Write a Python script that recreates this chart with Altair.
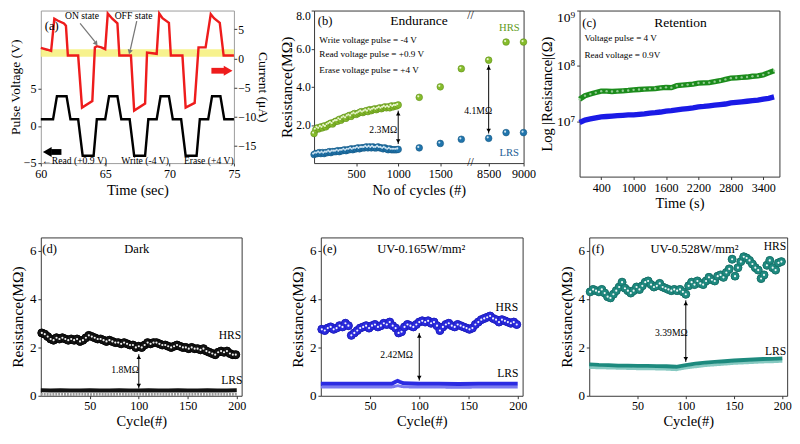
import altair as alt
import pandas as pd

FONT = "Liberation Serif"

# ---------------- (a) pulse voltage / current ----------------
a_volt_time = [60.0, 60.95, 61.25, 62.0, 62.3, 62.9, 63.25, 64.1, 64.35, 65.0, 65.3, 65.95, 66.25,
               66.9, 67.25, 68.1, 68.35, 69.0, 69.3, 69.95, 70.25, 70.9, 71.25, 72.1, 72.35, 73.0,
               73.3, 73.95, 74.25, 75.0]
a_volt = [0.9, 0.9, 4, 4, 0.9, 0.9, -4, -4, 0.9, 0.9, 4, 4, 0.9, 0.9, -4, -4, 0.9, 0.9, 4, 4,
          0.9, 0.9, -4, -4, 0.9, 0.9, 4, 4, 0.9, 0.9]
a_cur_time = [60.0, 60.5, 60.8, 61.05, 61.3, 61.8, 61.95, 62.1, 62.9, 63.2, 64.0, 64.2, 64.35, 64.7,
              65.0, 65.2, 65.55, 65.95, 66.1, 67.0, 67.25, 68.1, 68.25, 69.0, 69.2, 69.45, 69.95,
              70.1, 71.0, 71.25, 71.95, 72.25, 72.8, 73.2, 73.45, 73.9, 74.2, 75.0]
a_cur = [1.8, 1.5, 1.3, 6.8, 6.5, 6.0, 5.6, 0.5, 0.5, -8.4, -7.3, 1.9, 2.1, 1.9, 1.6, 7.7, 6.8, 6.0,
         0.5, 0.5, -8.9, -7.7, 1.0, 0.8, 7.7, 6.9, 6.1, 0.5, 0.5, -8.4, -7.6, 1.9, 1.9, 7.6, 6.9,
         6.1, 0.5, 0.5]
a_band = [0.3, 1.6]

# ---------------- (b) endurance ----------------
b_hrs_dense = [1.55, 1.75, 1.85, 1.8, 1.9, 1.85, 1.95, 1.9, 2.0, 2.05, 2.1, 2.05, 2.15, 2.2, 2.2,
               2.3, 2.25, 2.35, 2.4, 2.35, 2.45, 2.5, 2.45, 2.55, 2.6, 2.55, 2.6, 2.65, 2.7, 2.65,
               2.7, 2.75, 2.7, 2.8, 2.75, 2.8, 2.85, 2.8, 2.85, 2.9, 2.85, 2.9, 2.95, 2.9, 2.95,
               2.9, 3.0, 2.95, 3.0, 3.0, 3.05]
b_lrs_dense = [0.45, 0.5, 0.5, 0.55, 0.5, 0.55, 0.5, 0.55, 0.55, 0.6, 0.55, 0.6, 0.6, 0.6, 0.65,
               0.6, 0.65, 0.65, 0.7, 0.65, 0.7, 0.7, 0.75, 0.7, 0.75, 0.75, 0.8, 0.75, 0.8, 0.8,
               0.8, 0.85, 0.8, 0.85, 0.8, 0.85, 0.8, 0.8, 0.85, 0.8, 0.8, 0.75, 0.8, 0.75, 0.7,
               0.75, 0.7, 0.7, 0.7, 0.7, 0.72]
b_sparse_cycles = [1250, 1500, 1750, 8500, 8750, 9000]
b_hrs_sparse = [3.45, 4.0, 4.95, 5.4, 6.35, 6.35]
b_lrs_sparse = [0.8, 1.03, 1.25, 1.3, 1.6, 1.6]

# ---------------- (c) retention ----------------
c_time = list(range(0, 3601, 100))
c_hrs = [2.5, 2.9, 3.1, 3.3, 3.5, 3.5, 3.45, 3.5, 3.55, 3.6, 3.7, 3.75, 3.8, 3.85, 3.9, 4.0, 4.1,
         4.05, 4.4, 4.5, 4.6, 4.7, 4.9, 4.95, 5.0, 5.2, 5.4, 5.7, 6.0, 6.1, 6.2, 6.3, 6.5, 6.6,
         6.9, 7.5, 8.2]          # x 1e7 ohm
c_lrs = [0.95, 1.05, 1.1, 1.15, 1.2, 1.22, 1.24, 1.26, 1.28, 1.3, 1.3, 1.33, 1.36, 1.4, 1.43,
         1.47, 1.52, 1.55, 1.6, 1.65, 1.7, 1.75, 1.82, 1.85, 1.9, 1.95, 2.0, 2.05, 2.15, 2.2,
         2.25, 2.3, 2.35, 2.4, 2.5, 2.6, 2.75]  # x 1e7 ohm

# ---------------- (d)(e)(f) cycling ----------------
d_hrs = [2.6, 2.55, 2.45, 2.35, 2.3, 2.4, 2.35, 2.4, 2.35, 2.3,
         2.35, 2.3, 2.35, 2.25, 2.3, 2.4, 2.5, 2.45, 2.4, 2.35,
         2.35, 2.3, 2.25, 2.3, 2.25, 2.2, 2.2, 2.15, 2.2, 2.15,
         2.1, 2.1, 2.0, 2.05, 2.0, 2.1, 2.2, 2.15, 2.2, 2.2,
         2.15, 2.1, 2.1, 2.05, 2.0, 2.05, 2.1, 2.05, 2.0, 2.0,
         1.95, 2.0, 1.95, 1.95, 1.9, 1.95, 1.85, 1.8, 1.75, 1.7,
         1.8, 1.85, 1.8, 1.85, 1.75, 1.7, 1.7]
e_hrs = [2.75, 2.7, 2.8, 2.85, 2.75, 2.8, 2.9, 2.85, 3.0, 2.9,
         2.5, 2.6, 2.7, 2.8, 2.85, 2.9, 2.8, 2.9, 2.95, 2.85,
         2.9, 3.0, 2.95, 3.05, 2.9, 2.8, 2.6, 2.65, 2.85, 2.95,
         2.9, 2.85, 2.95, 3.05, 3.1, 3.05, 3.1, 3.0, 3.05, 2.9,
         2.7, 2.85, 2.95, 3.0, 2.9, 2.85, 2.95, 2.9, 2.85, 2.8,
         2.75, 2.8, 2.95, 3.05, 3.15, 3.2, 3.25, 3.3, 3.2, 3.15,
         3.05, 3.15, 3.1, 3.05, 3.0, 3.05, 2.95]
f_hrs = [4.3, 4.4, 4.35, 4.3, 4.4, 4.25, 4.1, 4.05, 4.2, 4.35,
         4.5, 4.7, 4.45, 4.35, 4.25, 4.35, 4.5, 4.4, 4.55, 4.7,
         4.75, 4.6, 4.5, 4.55, 4.65, 4.5, 4.45, 4.4, 4.35, 4.4,
         4.35, 4.4, 4.3, 4.2, 4.55, 4.7, 4.6, 4.75, 4.65, 4.6,
         4.75, 4.9, 4.8, 4.75, 4.95, 5.0, 4.9, 5.1, 5.25, 5.65,
         4.95, 5.3, 5.55, 5.75, 5.7, 5.6, 5.45, 5.3, 5.2, 4.85,
         5.0, 5.4, 5.6, 5.3, 5.2, 5.5, 5.55]
hrs_cycles = [1 + 3 * i for i in range(67)]

lrs_cycles = list(range(0, 201, 10))
d_lrs = [0.23, 0.22, 0.23, 0.22, 0.22, 0.23, 0.22, 0.22, 0.23, 0.22, 0.22, 0.23, 0.22, 0.22, 0.23,
         0.22, 0.22, 0.23, 0.22, 0.22, 0.23]
d_lrs_low = [0.06, 0.05, 0.06, 0.05, 0.06, 0.05, 0.06, 0.05, 0.06, 0.05, 0.06, 0.05, 0.06, 0.05,
             0.06, 0.05, 0.06, 0.05, 0.06, 0.05, 0.06]
e_lrs_cycles = [0, 20, 40, 60, 72, 76, 78, 80, 84, 100, 120, 140, 160, 180, 200]
e_lrs = [0.5, 0.5, 0.5, 0.5, 0.5, 0.58, 0.62, 0.58, 0.52, 0.5, 0.5, 0.49, 0.5, 0.5, 0.5]
e_lrs_low = [0.36, 0.36, 0.36, 0.36, 0.36, 0.4, 0.42, 0.4, 0.37, 0.36, 0.36, 0.35, 0.36, 0.36, 0.36]
f_lrs = [1.3, 1.28, 1.27, 1.25, 1.25, 1.24, 1.24, 1.23, 1.22, 1.2, 1.27, 1.33, 1.37, 1.4, 1.43,
         1.46, 1.48, 1.5, 1.52, 1.53, 1.55]
f_lrs_low = [1.17, 1.16, 1.15, 1.14, 1.13, 1.12, 1.12, 1.11, 1.1, 1.08, 1.15, 1.2, 1.25, 1.28,
             1.31, 1.34, 1.36, 1.38, 1.4, 1.41, 1.43]


def frame(x, y, **extra):
    d = pd.DataFrame({"x": x, "y": y})
    for k, v in extra.items():
        d[k] = v
    return d


def X(s):
    return alt.X("x:Q", scale=s)


def Y(s):
    return alt.Y("y:Q", scale=s)


def text_layer(xs, ys, labels, xs_scale, ys_scale, size=11, color="black", align="center",
               yfield=None):
    return alt.Chart(frame(xs, ys, label=labels)).mark_text(
        font=FONT, fontSize=size, color=color, align=align, baseline="middle"
    ).encode(x=X(xs_scale), y=yfield if yfield is not None else Y(ys_scale), text="label:N")


def double_arrow(xv, y_top, y_bot, xs, ys, head=22):
    line = alt.Chart(pd.DataFrame({"x": [xv], "y": [y_top], "y2": [y_bot]})).mark_rule(
        color="black", strokeWidth=1).encode(x=X(xs), y=Y(ys), y2="y2:Q")
    up = alt.Chart(pd.DataFrame({"x": [xv], "y": [y_top]})).mark_point(
        shape="triangle-up", filled=True, color="black", size=head, yOffset=3, opacity=1).encode(
        x=X(xs), y=Y(ys))
    dn = alt.Chart(pd.DataFrame({"x": [xv], "y": [y_bot]})).mark_point(
        shape="triangle-down", filled=True, color="black", size=head, yOffset=-3, opacity=1).encode(
        x=X(xs), y=Y(ys))
    return [line, up, dn]


LAB = 12.5
TIT = 15

# ================= panel (a) =================
ax = alt.Scale(domain=[60, 75], nice=False, zero=False)
av = alt.Scale(domain=[-5, 15.55], nice=False, zero=False)
ai = alt.Scale(domain=[-17.9, 8.2], nice=False, zero=False)
AX_I = alt.Axis(orient="right", values=[-15, -10, -5, 0, 5], labelOverlap=False,
                title="Current (μA)", titlePadding=0, labelPadding=1, labelFontSize=12,
                titleFontSize=14)
AX_V = alt.Axis(orient="left", values=[-5, 0, 5], labelOverlap=False, title="Pulse Voltage (V)",
                titlePadding=1, labelPadding=2, titleFontSize=14)


def YI():
    return alt.Y("y:Q", scale=ai, axis=AX_I)


def YV():
    return alt.Y("y:Q", scale=av, axis=AX_V)


red = alt.Chart(frame(a_cur_time, a_cur)).mark_line(color="#ee1c1c", strokeWidth=2.5).encode(
    x=X(ax), y=YI())
band = alt.Chart(pd.DataFrame({"x": [60], "x2": [75], "y": [a_band[0]], "y2": [a_band[1]]})).mark_rect(
    color="#f6f07a", opacity=0.85).encode(x=X(ax), x2="x2:Q", y=YI(), y2="y2:Q")
red_arrow_body = alt.Chart(pd.DataFrame({"x": [73.25], "x2": [74.35], "y": [-2.1]})).mark_rule(
    color="#ee1c1c", strokeWidth=6).encode(x=X(ax), x2="x2:Q", y=YI())
red_arrow_head = alt.Chart(pd.DataFrame({"x": [74.55], "y": [-2.1]})).mark_point(
    shape="triangle-right", filled=True, color="#ee1c1c", size=110, opacity=1).encode(
    x=X(ax), y=YI())
on_line = alt.Chart(pd.DataFrame({"x": [63.05], "x2": [64.2], "y": [6.0], "y2": [2.9]})).mark_rule(
    color="#777", strokeWidth=1.3).encode(x=X(ax), x2="x2:Q", y=YI(), y2="y2:Q")
on_head = alt.Chart(pd.DataFrame({"x": [64.3], "y": [2.55]})).mark_point(
    shape="triangle-down", filled=True, color="#777", size=30, angle=322, opacity=1).encode(
    x=X(ax), y=YI())
off_line = alt.Chart(pd.DataFrame({"x": [67.45], "x2": [66.95], "y": [6.4], "y2": [1.5]})).mark_rule(
    color="#777", strokeWidth=1.3).encode(x=X(ax), x2="x2:Q", y=YI(), y2="y2:Q")
off_head = alt.Chart(pd.DataFrame({"x": [66.9], "y": [1.1]})).mark_point(
    shape="triangle-down", filled=True, color="#777", size=30, angle=16, opacity=1).encode(
    x=X(ax), y=YI())
a_state_txt = text_layer([63.2, 67.2], [7.3, 7.3], ["ON state", "OFF state"], ax, ai, size=10,
                         yfield=YI())
cur_group = alt.layer(band, red, red_arrow_body, red_arrow_head, on_line, on_head, off_line,
                      off_head, a_state_txt)

black = alt.Chart(frame(a_volt_time, a_volt)).mark_line(color="black", strokeWidth=2.5).encode(
    x=alt.X("x:Q", scale=ax, axis=alt.Axis(values=[60, 65, 70, 75], title="Time (sec)",
                                          titlePadding=3, labelOverlap=False, labelFlush=False)),
    y=YV())
blk_body = alt.Chart(pd.DataFrame({"x": [60.8], "x2": [61.6], "y": [-3.5]})).mark_rule(
    color="black", strokeWidth=6).encode(x=X(ax), x2="x2:Q", y=YV())
blk_head = alt.Chart(pd.DataFrame({"x": [60.5], "y": [-3.5]})).mark_point(
    shape="triangle-left", filled=True, color="black", size=110, opacity=1).encode(
    x=X(ax), y=YV())
a_label = text_layer([60.85], [13.4], ["(a)"], ax, av, size=13, yfield=YV())
a_bottom_l = text_layer([60.1], [-4.7], ["\u2190Read (+0.9 V)"], ax, av, size=10, align="left",
                        yfield=YV())
a_bottom_c = text_layer([68.1, 73.05], [-4.7, -4.7], ["Write  (-4 V)", "Erase  (+4 V)"], ax, av,
                        size=10, yfield=YV())
volt_group = alt.layer(black, blk_body, blk_head, a_label, a_bottom_l, a_bottom_c)

panel_a = alt.layer(cur_group, volt_group).resolve_scale(y="independent").properties(
    width=200, height=158, view=alt.ViewBackground(stroke="#999"))

# ================= panel (b) =================


def brk(c):
    return c if c <= 1800 else 2075 + (c - 8500) * 0.828


bx = alt.Scale(domain=[0, 2490], nice=False, zero=False)
by = alt.Scale(domain=[0, 8], nice=False, zero=False)
dense_cycles = [20 * i for i in range(len(b_hrs_dense))]
b_green = frame([brk(c) for c in dense_cycles + b_sparse_cycles], b_hrs_dense + b_hrs_sparse)
b_blue = frame([brk(c) for c in dense_cycles + b_sparse_cycles], b_lrs_dense + b_lrs_sparse)

b_pts_g = alt.Chart(b_green).mark_circle(size=48, fill="#86bc2c", stroke="#5f8f1c",
                                         strokeWidth=0.6, opacity=1).encode(
    x=alt.X("x:Q", scale=bx, axis=alt.Axis(
        values=[500, 1000, 1500, brk(8500), brk(9000)], format="d", labelOverlap=False,
        labelFlush=False,
        labelExpr="datum.value < 1800 ? datum.label : (datum.value < 2300 ? '8500' : '9000')",
        title="No of cycles (#)", titlePadding=3)),
    y=alt.Y("y:Q", scale=by, axis=alt.Axis(values=[2, 4, 6, 8], format=".1f", labelOverlap=False,
                                          labelFlush=True, title="Resistance(MΩ)",
                                          labelFontSize=12, labelPadding=1,
                                          titleFontSize=16, titlePadding=1)))
b_pts_b = alt.Chart(b_blue).mark_circle(size=48, fill="#2075ad", stroke="#175680",
                                        strokeWidth=0.6, opacity=1).encode(x=X(bx), y=Y(by))
b_hl_g = alt.Chart(b_green).mark_circle(size=5, color="#e8f5cc", opacity=1, xOffset=-1,
                                        yOffset=-1).encode(x=X(bx), y=Y(by))
b_hl_b = alt.Chart(b_blue).mark_circle(size=5, color="#cfe4f2", opacity=1, xOffset=-1,
                                       yOffset=-1).encode(x=X(bx), y=Y(by))
b_txt1 = text_layer([132], [7.45], ["(b)"], bx, by, size=13, align="center")
b_txt2 = text_layer([1247], [7.45], ["Endurance"], bx, by, size=14)
b_txt3 = text_layer([63, 63, 63], [6.45, 5.7, 4.9],
                    ["Write voltage  pulse  = -4 V", "Read voltage  pulse  = +0.9 V",
                     "Erase voltage  pulse  = +4 V"], bx, by, size=9.5, align="left")
b_hrs_lab = text_layer([2320], [7.1], ["HRS"], bx, by, size=11, color="#5f9a1c")
b_lrs_lab = text_layer([2320], [0.55], ["LRS"], bx, by, size=11, color="#1d5e95")
b_d1 = text_layer([822], [1.75], ["2.3MΩ"], bx, by, size=10)
b_d2 = text_layer([1950], [2.75], ["4.1MΩ"], bx, by, size=10)
b_brk = text_layer([1860, 1860], [0.05, 7.75], ["//", "//"], bx, by, size=12)
panel_b = alt.layer(b_pts_g, b_pts_b, b_hl_g, b_hl_b, b_txt1, b_txt2, b_txt3, b_hrs_lab,
                    b_lrs_lab, b_d1, b_d2, b_brk,
                    *double_arrow(1000, 2.75, 1.0, bx, by),
                    *double_arrow(brk(8500), 5.15, 1.55, bx, by)).properties(width=217, height=158)

# ================= panel (c) =================
cx = alt.Scale(domain=[0, 3700], nice=False, zero=False)
cy = alt.Scale(type="log", domain=[1e6, 1e9], nice=False)
c_g = frame(c_time, [v * 1e7 for v in c_hrs])
c_b = frame(c_time, [v * 1e7 for v in c_lrs])
c_line_g = alt.Chart(c_g).mark_line(color="#1c8c1c", strokeWidth=5.5).encode(
    x=alt.X("x:Q", scale=cx, axis=alt.Axis(values=[400, 1000, 1600, 2200, 2800, 3400], format="d",
                                          title="Time (s)", titlePadding=2, labelOverlap=False)),
    y=alt.Y("y:Q", scale=cy, axis=alt.Axis(
        values=[1e7, 1e8, 1e9], labelFlush=True, labelOverlap=False,
        labelExpr="datum.value > 5e8 ? '10\u2079' : (datum.value > 5e7 ? '10\u2078' : '10\u2077')",
        title="Log |Resistance|(Ω)", titlePadding=2, labelFontSize=14)))
c_line_b = alt.Chart(c_b).mark_line(color="#1a1ae6", strokeWidth=5.5).encode(x=X(cx), y=Y(cy))
c_dots_g = alt.Chart(c_g).mark_circle(size=6, color="#9fd39f", opacity=0.9).encode(x=X(cx), y=Y(cy))
c_t1 = text_layer([178], [6.0e8], ["(c)"], cx, cy, size=13)
c_t2 = text_layer([1868], [6.0e8], ["Retention"], cx, cy, size=14)
c_t3 = text_layer([90, 90], [3.2e8, 1.57e8], ["Voltage  pulse  = 4 V", "Read voltage  = 0.9V"],
                  cx, cy, size=9.5, align="left")
panel_c = alt.layer(c_line_g, c_line_b, c_dots_g, c_t1, c_t2, c_t3).properties(width=207, height=172)

# ================= panels (d)(e)(f) =================
cyc_x = alt.Scale(domain=[0, 205], nice=False, zero=False)
res_y = alt.Scale(domain=[0, 6.55], nice=False, zero=False)


def cycling_panel(hrs, fill, edge, lrs_x, lrs_hi, lrs_lo, hi_col, lo_col, lo_dash, label,
                  title_txt, title_x, hrs_lab, lrs_lab, diff_txt, diff_pos, arrow, width,
                  lab_align="center"):
    hdf = frame(hrs_cycles, hrs)
    pts = alt.Chart(hdf).mark_circle(size=68, fill=fill, stroke=edge, strokeWidth=0.6,
                                     opacity=1).encode(
        x=alt.X("x:Q", scale=cyc_x, axis=alt.Axis(values=[50, 100, 150, 200], title="Cycle(#)",
                                                 titlePadding=2, labelPadding=1,
                                                 labelOverlap=False)),
        y=alt.Y("y:Q", scale=res_y, axis=alt.Axis(
            values=[0, 1, 2, 3, 4, 5, 6], labelExpr="datum.value % 2 == 0 ? datum.label : ''",
            labelOverlap=False, title="Resistance(MΩ)", titlePadding=4, titleFontSize=16,
            labelFontSize=13.5)))
    hl = alt.Chart(hdf).mark_circle(size=5, color="white", opacity=0.95).encode(x=X(cyc_x),
                                                                                y=Y(res_y))
    lo = alt.Chart(frame(lrs_x, lrs_lo)).mark_line(color=lo_col, strokeWidth=3,
                                                   strokeDash=lo_dash).encode(x=X(cyc_x), y=Y(res_y))
    hi = alt.Chart(frame(lrs_x, lrs_hi)).mark_line(color=hi_col, strokeWidth=4).encode(
        x=X(cyc_x), y=Y(res_y))
    t1 = text_layer([9], [6.05], [label], cyc_x, res_y, size=13)
    t2 = text_layer([title_x], [6.05], [title_txt], cyc_x, res_y, size=13)
    t3 = text_layer([hrs_lab[0]], [hrs_lab[1]], ["HRS"], cyc_x, res_y, size=12, align=lab_align)
    t4 = text_layer([lrs_lab[0]], [lrs_lab[1]], ["LRS"], cyc_x, res_y, size=12, align=lab_align)
    t5 = text_layer([diff_pos[0]], [diff_pos[1]], [diff_txt], cyc_x, res_y, size=10)
    arr = double_arrow(100, arrow[0], arrow[1], cyc_x, res_y)
    return alt.layer(pts, lo, hi, pts, hl, t1, t2, t3, t4, t5, *arr).properties(width=width,
                                                                                 height=164)


panel_d = cycling_panel(d_hrs, "#151515", "#000000", lrs_cycles, d_lrs, d_lrs_low, "#111111",
                        "#9a9a9a", [2, 1], "(d)", "Dark", 98, (193, 2.5), (195, 0.63), "1.8MΩ",
                        (86, 1.06), (1.72, 0.3), 208)
panel_e = cycling_panel(e_hrs, "#2a2ae0", "#1a1ab0", e_lrs_cycles, e_lrs, e_lrs_low, "#2b2be2",
                        "#7a7af0", [1, 0], "(e)", "UV-0.165W/mm\u00b2", 102, (189, 3.65),
                        (190, 0.94), "2.42MΩ", (77, 1.7), (2.6, 0.63), 209)
panel_f = cycling_panel(f_hrs, "#1f8a80", "#136860", lrs_cycles, f_lrs, f_lrs_low, "#1d8a7e",
                        "#86c9c1", [1, 0], "(f)", "UV-0.528W/mm\u00b2", 109, (204, 6.2),
                        (204, 1.85), "3.39MΩ", (85, 2.6), (3.95, 1.4), 205,
                        lab_align="right")

row1 = alt.hconcat(alt.hconcat(panel_a, panel_b, spacing=8), panel_c, spacing=3)
row2 = alt.hconcat(alt.hconcat(panel_d, panel_e, spacing=44), panel_f, spacing=31)

chart = alt.vconcat(row1, row2, spacing=27).properties(
    padding={"left": 0, "top": -8, "right": 0, "bottom": 0}
).configure(font=FONT).configure_axis(
    labelFont=FONT, titleFont=FONT, labelFontSize=LAB, titleFontSize=TIT, titleFontWeight="normal",
    labelColor="black", titleColor="black", domain=False, grid=False, tickColor="#333",
    tickSize=3, labelPadding=2, labelOverlap=False
).configure_view(stroke="#333", strokeWidth=1).configure_text(font=FONT)

chart.save("out.html", embed_options={"renderer": "svg", "actions": False})
